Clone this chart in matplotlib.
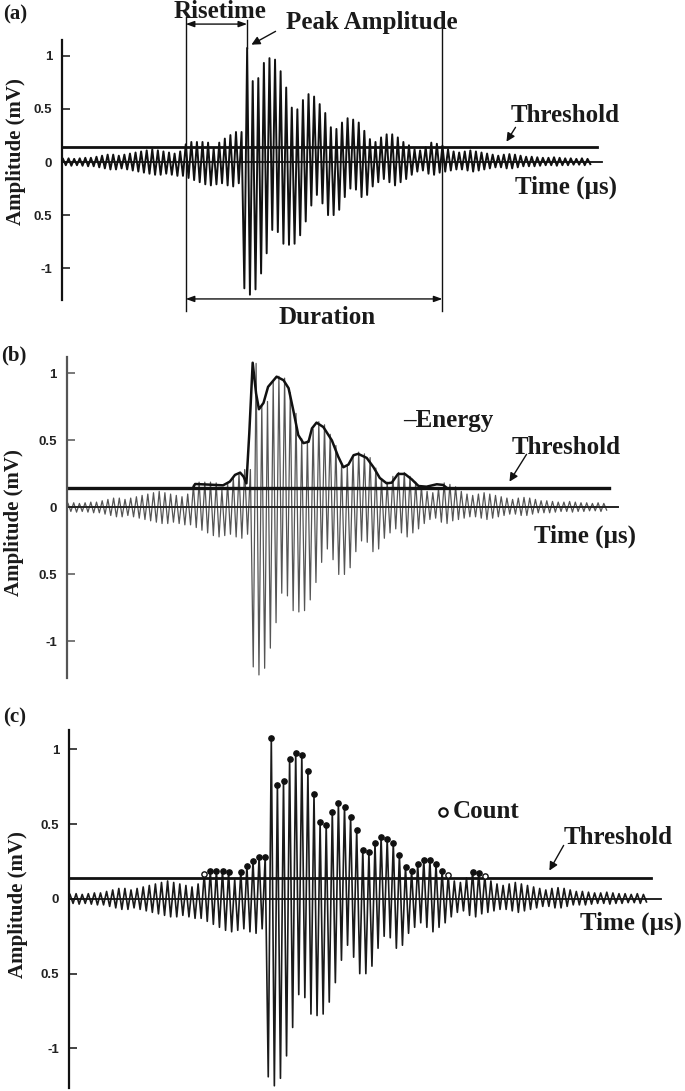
import matplotlib
matplotlib.use("Agg")
import matplotlib.pyplot as plt

W, H = 685, 1091
fig = plt.figure(figsize=(W / 100, H / 100), dpi=100)

# ---------------- data ----------------
# positive peak of each oscillation cycle (cycle index 0..94), mV
pos_peaks = [
    0.03, 0.035, 0.03, 0.035, 0.04, 0.04,
    0.05, 0.06, 0.07, 0.07, 0.06,
    0.07, 0.08, 0.09, 0.10, 0.11,
    0.12, 0.11, 0.10, 0.09, 0.08, 0.10,
    0.167, 0.189, 0.189, 0.189, 0.183, 0.13, 0.183, 0.221, 0.254, 0.283, 0.283,
    1.075, 0.763, 0.791, 0.934, 0.979, 0.965, 0.856, 0.702, 0.513, 0.497,
    0.584, 0.640, 0.617, 0.546, 0.462, 0.328, 0.312, 0.372, 0.413, 0.40,
    0.372, 0.294, 0.216, 0.189, 0.232, 0.261, 0.261, 0.232, 0.189, 0.158,
    0.12, 0.11, 0.14, 0.183, 0.172, 0.154,
    0.12, 0.10, 0.09, 0.10, 0.11, 0.10, 0.09,
    0.08, 0.07, 0.06, 0.07, 0.075, 0.07, 0.06, 0.05, 0.05,
    0.045, 0.04, 0.04, 0.045, 0.04, 0.035, 0.035, 0.03, 0.035, 0.03,
]
# negative trough of each cycle (half a cycle after the peak), mV
neg_troughs = [
    -0.03, -0.035, -0.03, -0.035, -0.04, -0.04,
    -0.05, -0.06, -0.07, -0.07, -0.06,
    -0.07, -0.08, -0.09, -0.10, -0.11,
    -0.12, -0.12, -0.11, -0.12, -0.13,
    -0.13, -0.15, -0.17, -0.19, -0.21,
    -0.22, -0.21, -0.20, -0.22, -0.23, -0.20,
    -1.19, -1.25, -1.20, -1.05, -0.86, -0.64, -0.66, -0.77, -0.78, -0.77,
    -0.69, -0.56, -0.41, -0.31, -0.39, -0.50, -0.50, -0.45, -0.33, -0.25,
    -0.26, -0.33, -0.31, -0.23, -0.19, -0.16, -0.19, -0.22, -0.19, -0.16,
    -0.12, -0.09, -0.08, -0.11, -0.12, -0.10, -0.09,
    -0.08, -0.07, -0.07, -0.08, -0.09, -0.08, -0.07,
    -0.06, -0.05, -0.05, -0.06, -0.06, -0.05, -0.04, -0.04, -0.04,
    -0.035, -0.03, -0.03, -0.035, -0.03, -0.03, -0.025, -0.025, -0.03, -0.02,
]
threshold = 0.142

# energy envelope (panel b): cycle index, mV
energy_t = [21.9, 22.3, 24.9, 27.2, 28.4, 29.3, 30.2, 30.8, 31.3, 31.8, 32.4,
            33.0, 33.5, 34.3, 35.1, 36.6, 37.8, 38.7, 39.5, 40.4, 41.3, 42.2,
            42.8, 43.6, 44.8, 46.3, 47.4, 48.3, 49.2, 50.1, 50.9, 52.4, 53.6,
            54.7, 55.9, 56.8, 57.9, 59.1, 60.3, 61.5, 62.9, 64.7, 65.8, 66.4]
energy_v = [0.143, 0.175, 0.17, 0.165, 0.193, 0.243, 0.26, 0.23, 0.18, 0.55, 1.08,
            0.85, 0.733, 0.78, 0.90, 0.976, 0.95, 0.89, 0.73, 0.54, 0.48, 0.49,
            0.59, 0.633, 0.60, 0.50, 0.38, 0.30, 0.32, 0.39, 0.40, 0.37, 0.30,
            0.22, 0.18, 0.185, 0.25, 0.25, 0.21, 0.16, 0.155, 0.173, 0.168, 0.148]

open_counts = [22, 62, 68]   # counts drawn as open circles

ytick_vals = [1, 0.5, 0, -0.5, -1]
ytick_labels = ["1", "0.5", "0", "0.5", "-1"]

# waveform as alternating peak / trough points
wave_t, wave_v = [], []
for i, (p, n) in enumerate(zip(pos_peaks, neg_troughs)):
    wave_t += [i, i + 0.5]
    wave_v += [p, n]

SERIF = "Liberation Serif"
SANS = "Liberation Sans"


def fpx(x, y):
    return (x / W, 1 - y / H)


def label(x, y, s, size=18, ha="center", rot=0):
    fig.text(*fpx(x, y), s, ha=ha, va="center", fontsize=size,
             fontfamily=SERIF, fontweight="bold", rotation=rot, color="#1a1a1a")


def arrow(x0, y0, x1, y1, style="-|>", lw=1.0):
    fig.add_artist(matplotlib.patches.FancyArrowPatch(
        fpx(x0, y0), fpx(x1, y1), transform=fig.transFigure,
        arrowstyle=style + ",head_length=5,head_width=2.5", mutation_scale=1,
        lw=lw, color="#111111"))


def make_panel(axis_px, x0, s, top, bottom, ylim, spine_col):
    ax = fig.add_axes([axis_px / W, 1 - bottom / H, (680 - axis_px) / W,
                       (bottom - top) / H])
    ax.set_xlim((axis_px - x0) / s, (680 - x0) / s)
    ax.set_ylim(*ylim)
    for k in ("top", "right", "bottom"):
        ax.spines[k].set_visible(False)
    ax.spines["left"].set_linewidth(1.6)
    ax.spines["left"].set_color(spine_col)
    ax.set_xticks([])
    ax.set_yticks(ytick_vals)
    ax.set_yticklabels(ytick_labels, fontfamily=SANS, fontweight="bold",
                       fontsize=9.5, color="#222222")
    ax.tick_params(axis="y", direction="in", length=6, width=1.1, pad=7,
                   color=spine_col)
    ax.patch.set_alpha(0)
    return ax


above = [i for i, p in enumerate(pos_peaks) if p > threshold]
first_cross, last_cross = above[0], above[-1]
peak_i = pos_peaks.index(max(pos_peaks))

# ---------------- panel (a) ----------------
axa = make_panel(62, 63, 5.58, 40, 300, (-1.30, 1.15), "#111111")
xa = axa.get_xlim()[0]
axa.plot(wave_t, wave_v, color="#111111", lw=1.4)
axa.plot([xa, 96.6], [0, 0], color="#111111", lw=1.3)
axa.plot([xa, 95.7], [threshold, threshold], color="#111111", lw=2.0)
axa.plot([first_cross, first_cross], [1.37, -1.40], color="#111111", lw=1.0, clip_on=False)
axa.plot([last_cross, last_cross], [1.26, -1.40], color="#111111", lw=1.0, clip_on=False)
axa.plot([peak_i, peak_i], [max(pos_peaks), 1.34], color="#111111", lw=1.0, clip_on=False)
axa.annotate("", xy=(peak_i, 1.30), xytext=(first_cross, 1.30), annotation_clip=False,
             arrowprops=dict(arrowstyle="<|-|>,head_length=0.5,head_width=0.18",
                             lw=1.0, color="#111111", shrinkA=0, shrinkB=0))
axa.annotate("", xy=(last_cross, -1.29), xytext=(first_cross, -1.29), annotation_clip=False,
             arrowprops=dict(arrowstyle="<|-|>,head_length=0.5,head_width=0.18",
                             lw=1.0, color="#111111", shrinkA=0, shrinkB=0))
label(15, 14, "(a)", size=15)
label(220, 12, "Risetime")
label(372, 23, "Peak Amplitude")
label(565, 115, "Threshold")
label(566, 187, "Time (µs)")
label(327, 318, "Duration")
label(16, 152, "Amplitude (mV)", size=15, rot=90)
arrow(278, 30, 249, 46)
arrow(517, 125, 505, 144)

# ---------------- panel (b) ----------------
axb = make_panel(66.7, 68, 5.70, 356.7, 678.3, (-1.275, 1.125), "#555555")
xb = axb.get_xlim()[0]
axb.plot(wave_t, wave_v, color="#555555", lw=0.9)
axb.plot([xb, 96.5], [0, 0], color="#222222", lw=1.4)
axb.plot([xb, 94.9], [threshold, threshold], color="#111111", lw=2.4)
axb.plot(energy_t, energy_v, color="#111111", lw=1.8, solid_joinstyle="round")
label(14, 355, "(b)", size=15)
label(403, 421, "–Energy", ha="left")
label(566, 447, "Threshold")
label(585, 536, "Time (µs)")
label(14, 523, "Amplitude (mV)", size=15, rot=90)
arrow(528, 452, 508, 484)

# ---------------- panel (c) ----------------
axc = make_panel(69, 70, 6.10, 730, 1088, (-1.265, 1.13), "#111111")
xc = axc.get_xlim()[0]
axc.plot(wave_t, wave_v, color="#1a1a1a", lw=1.2)
axc.plot([xc, 96.9], [0, 0], color="#111111", lw=1.3)
axc.plot([xc, 95.3], [threshold, threshold], color="#111111", lw=2.0)
fill_i = [i for i in above if i not in open_counts]
axc.plot(fill_i, [pos_peaks[i] for i in fill_i], "o", ms=3.8, color="#111111", ls="none")
axc.plot(open_counts, [pos_peaks[i] for i in open_counts], "o", ms=3.8, mfc="white",
         mec="#111111", mew=1.0, ls="none")
fig.lines.append(matplotlib.lines.Line2D([443 / W], [1 - 812 / H], marker="o", ms=6,
                                         mfc="white", mec="#111111", mew=1.6,
                                         transform=fig.transFigure))
label(15, 717, "(c)", size=15)
label(453, 812, "Count", ha="left")
label(618, 837, "Threshold")
label(631, 923, "Time (µs)")
label(18, 905, "Amplitude (mV)", size=15, rot=90)
arrow(565, 843, 548, 873)

fig.savefig("out.png", dpi=100)
